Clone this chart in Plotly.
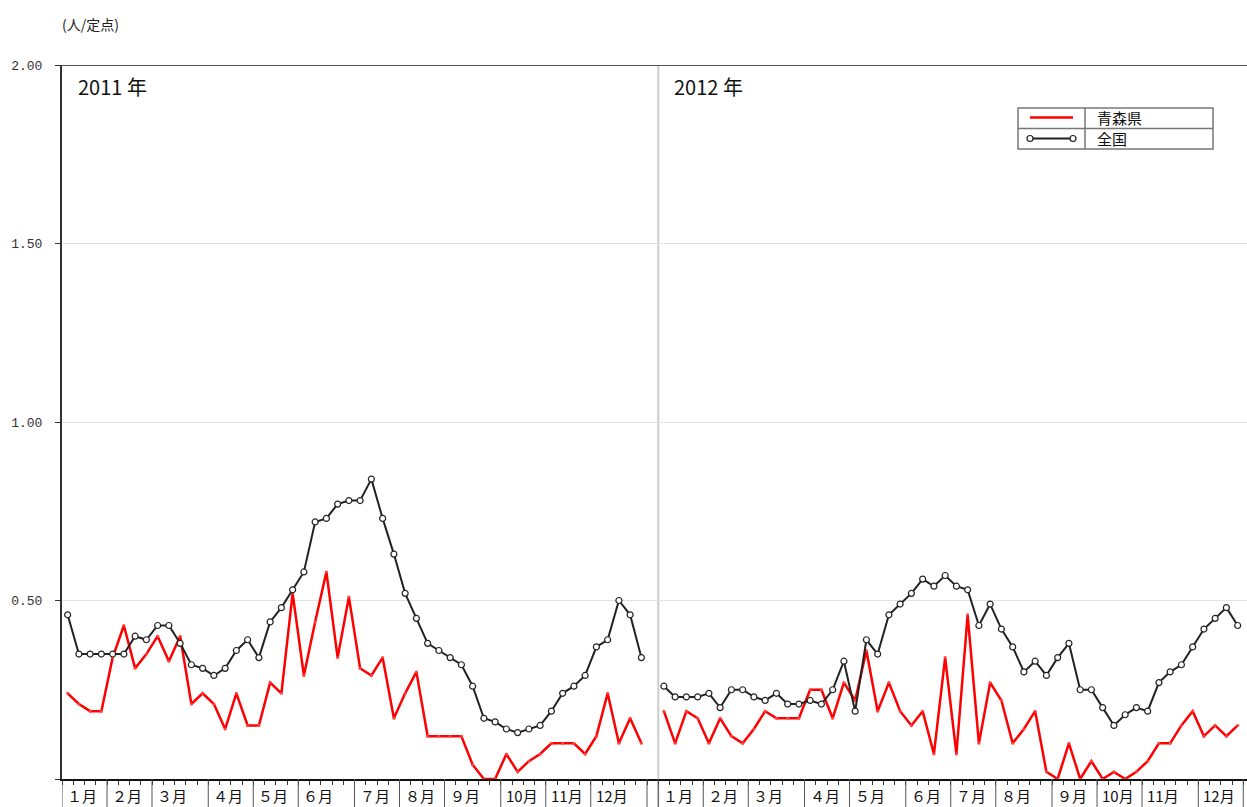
import plotly.graph_objects as go

# weekly values (人/定点), 52 weeks per year
aomori_2011 = [0.24, 0.21, 0.19, 0.19, 0.34, 0.43, 0.31, 0.35, 0.40, 0.33,
               0.40, 0.21, 0.24, 0.21, 0.14, 0.24, 0.15, 0.15, 0.27, 0.24,
               0.52, 0.29, 0.44, 0.58, 0.34, 0.51, 0.31, 0.29, 0.34, 0.17,
               0.24, 0.30, 0.12, 0.12, 0.12, 0.12, 0.04, 0.00, 0.00, 0.07,
               0.02, 0.05, 0.07, 0.10, 0.10, 0.10, 0.07, 0.12, 0.24, 0.10,
               0.17, 0.10]
zenkoku_2011 = [0.46, 0.35, 0.35, 0.35, 0.35, 0.35, 0.40, 0.39, 0.43, 0.43,
                0.38, 0.32, 0.31, 0.29, 0.31, 0.36, 0.39, 0.34, 0.44, 0.48,
                0.53, 0.58, 0.72, 0.73, 0.77, 0.78, 0.78, 0.84, 0.73, 0.63,
                0.52, 0.45, 0.38, 0.36, 0.34, 0.32, 0.26, 0.17, 0.16, 0.14,
                0.13, 0.14, 0.15, 0.19, 0.24, 0.26, 0.29, 0.37, 0.39, 0.50,
                0.46, 0.34]
aomori_2012 = [0.19, 0.10, 0.19, 0.17, 0.10, 0.17, 0.12, 0.10, 0.14, 0.19,
               0.17, 0.17, 0.17, 0.25, 0.25, 0.17, 0.27, 0.22, 0.36, 0.19,
               0.27, 0.19, 0.15, 0.19, 0.07, 0.34, 0.07, 0.46, 0.10, 0.27,
               0.22, 0.10, 0.14, 0.19, 0.02, 0.00, 0.10, 0.00, 0.05, 0.00,
               0.02, 0.00, 0.02, 0.05, 0.10, 0.10, 0.15, 0.19, 0.12, 0.15,
               0.12, 0.15]
zenkoku_2012 = [0.26, 0.23, 0.23, 0.23, 0.24, 0.20, 0.25, 0.25, 0.23, 0.22,
                0.24, 0.21, 0.21, 0.22, 0.21, 0.25, 0.33, 0.19, 0.39, 0.35,
                0.46, 0.49, 0.52, 0.56, 0.54, 0.57, 0.54, 0.53, 0.43, 0.49,
                0.42, 0.37, 0.30, 0.33, 0.29, 0.34, 0.38, 0.25, 0.25, 0.20,
                0.15, 0.18, 0.20, 0.19, 0.27, 0.30, 0.32, 0.37, 0.42, 0.45,
                0.48, 0.43]

years = ["2011", "2012"]
month_labels = ["１月", "２月", "３月", "４月", "５月", "６月",
                "７月", "８月", "９月", "10月", "11月", "12月"]
weeks_per_month_2011 = [4, 4, 5, 4, 4, 5, 4, 4, 5, 4, 4, 5]
weeks_per_month_2012 = [4, 4, 5, 4, 5, 4, 4, 5, 4, 4, 5, 4]
y_ticks = [0, 0.5, 1.0, 1.5, 2.0]

SLOTS = 53          # week slots reserved per year
PLOT_H = 714        # plot area height in px
PLOT_W = 1185
X_MAX = 105.33

def px_x(p):
    return (p - 62) / PLOT_W

def px_y(p):
    return (779 - p) / PLOT_H

fig = go.Figure()

series = [(aomori_2011, zenkoku_2011, 0), (aomori_2012, zenkoku_2012, SLOTS)]
for red, black, off in series:
    xs = [off + i + 0.5 for i in range(len(red))]
    fig.add_trace(go.Scatter(x=xs, y=red, mode="lines+markers",
                             line=dict(color="#ff0000", width=2.5),
                             marker=dict(size=3, color="#ff4040"),
                             cliponaxis=False, showlegend=False,
                             name="青森県"))
for red, black, off in series:
    xs = [off + i + 0.5 for i in range(len(black))]
    fig.add_trace(go.Scatter(x=xs, y=black, mode="lines+markers",
                             line=dict(color="#222222", width=2),
                             marker=dict(size=6, color="white",
                                         line=dict(color="#222222", width=1.2)),
                             cliponaxis=False, showlegend=False,
                             name="全国"))

shapes = []
annotations = []
bottom = -28 / PLOT_H

# top frame
shapes.append(dict(type="line", xref="paper", yref="y", x0=0, x1=1, y0=2, y1=2,
                   line=dict(color="#555555", width=2)))
# year divider
shapes.append(dict(type="line", xref="x", yref="paper", x0=SLOTS, x1=SLOTS,
                   y0=bottom, y1=1, line=dict(color="#cccccc", width=2),
                   layer="below"))

for yr, wpm, off in [(years[0], weeks_per_month_2011, 0),
                     (years[1], weeks_per_month_2012, SLOTS)]:
    start = off
    for lab, w in zip(month_labels, wpm):
        shapes.append(dict(type="line", xref="x", yref="paper", x0=start, x1=start,
                           y0=bottom, y1=0, line=dict(color="#555555", width=1)))
        annotations.append(dict(x=start, y=-16 / PLOT_H, xref="x", yref="paper",
                                text=lab, showarrow=False, xanchor="left",
                                yanchor="middle", xshift=3,
                                font=dict(size=15, color="#111111",
                                          family="Noto Sans CJK JP")))
        start += w
    shapes.append(dict(type="line", xref="x", yref="paper", x0=start, x1=start,
                       y0=bottom, y1=0, line=dict(color="#555555", width=1)))
    annotations.append(dict(x=off, y=1, xref="x", yref="paper",
                            text=yr + " 年", showarrow=False, xanchor="left",
                            yanchor="top", xshift=14, yshift=-5,
                            font=dict(size=20, color="#111111",
                                      family="Noto Sans CJK JP")))

# unit label
annotations.append(dict(x=px_x(90), y=px_y(24), xref="paper", yref="paper",
                        text="(人/定点)", showarrow=False, xanchor="center",
                        yanchor="middle",
                        font=dict(size=14, color="#222222",
                                  family="Noto Sans CJK JP")))

# legend table
L, M, R = 1018, 1085, 1213
T, MID, B = 108, 128.5, 149
grid = dict(color="#777777", width=1.5)
shapes.append(dict(type="rect", xref="paper", yref="paper", x0=px_x(L), x1=px_x(R),
                   y0=px_y(B), y1=px_y(T), line=grid, fillcolor="white"))
shapes.append(dict(type="line", xref="paper", yref="paper", x0=px_x(L), x1=px_x(R),
                   y0=px_y(MID), y1=px_y(MID), line=grid))
shapes.append(dict(type="line", xref="paper", yref="paper", x0=px_x(M), x1=px_x(M),
                   y0=px_y(B), y1=px_y(T), line=grid))
shapes.append(dict(type="line", xref="paper", yref="paper", x0=px_x(1030), x1=px_x(1073),
                   y0=px_y(117.5), y1=px_y(117.5),
                   line=dict(color="#ff0000", width=2.5)))
shapes.append(dict(type="line", xref="paper", yref="paper", x0=px_x(1030), x1=px_x(1073),
                   y0=px_y(138.5), y1=px_y(138.5),
                   line=dict(color="#222222", width=2)))
for cx in (1030, 1073):
    shapes.append(dict(type="circle", xref="paper", yref="paper",
                       x0=px_x(cx - 3), x1=px_x(cx + 3),
                       y0=px_y(138.5 + 3), y1=px_y(138.5 - 3),
                       line=dict(color="#222222", width=1.2), fillcolor="white"))
for txt, cy in [("青森県", 118), ("全国", 139)]:
    annotations.append(dict(x=px_x(1096), y=px_y(cy), xref="paper", yref="paper",
                            text=txt, showarrow=False, xanchor="left",
                            yanchor="middle", borderpad=0,
                            font=dict(size=15, color="#111111",
                                      family="Noto Sans CJK JP")))

fig.update_layout(
    width=1247, height=807,
    margin=dict(l=62, r=0, t=65, b=28),
    plot_bgcolor="white", paper_bgcolor="white",
    shapes=shapes, annotations=annotations,
    xaxis=dict(range=[0, X_MAX], tickvals=list(range(0, 106)),
               showticklabels=False, ticks="outside", ticklen=4,
               tickcolor="#333333", showline=True, linecolor="#111111",
               linewidth=2, showgrid=False, zeroline=False),
    yaxis=dict(range=[0, 2], tickvals=y_ticks,
               ticktext=["", "0.50", "1.00", "1.50", "2.00"],
               ticks="outside", ticklen=5, tickcolor="#333333",
               showline=True, linecolor="#333333", linewidth=2,
               gridcolor="#e2e2e2", gridwidth=1, zeroline=False,
               ticklabelstandoff=10,
               tickfont=dict(family="Liberation Mono", size=13, color="#333333")),
)

fig.write_html("out.html", config={"displayModeBar": False},
               post_script="document.body.style.margin='0';")
